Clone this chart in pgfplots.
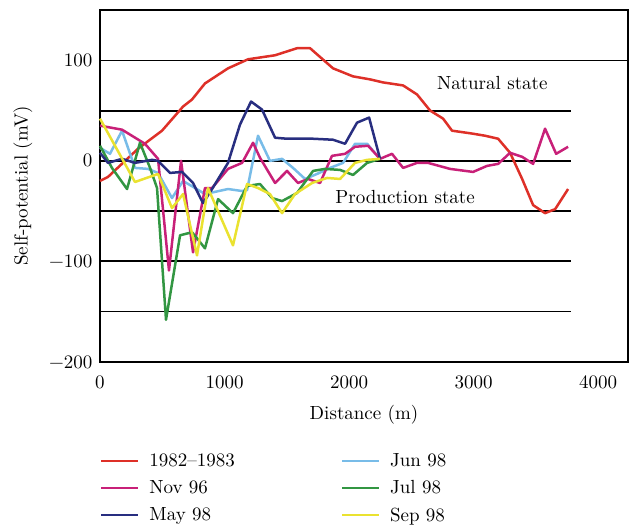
\documentclass[border=0pt]{standalone}
\usepackage{pgfplots}
\pgfplotsset{compat=1.18}
\usepackage{fontspec}
\setmainfont{lmroman10-regular}[Extension=.otf, BoldFont=lmroman10-bold, ItalicFont=lmroman10-italic]

\definecolor{cRed}{RGB}{222,48,40}
\definecolor{cNov}{RGB}{200,32,120}
\definecolor{cMay}{RGB}{40,46,128}
\definecolor{cJun}{RGB}{120,188,232}
\definecolor{cJul}{RGB}{50,150,66}
\definecolor{cSep}{RGB}{234,226,48}

\begin{document}
\begin{tikzpicture}[font=\fontsize{19}{22}\selectfont]
\begin{axis}[
    name=ax,
    scale only axis,
    width=528pt, height=352pt,
    xmin=0, xmax=4240,
    ymin=-200, ymax=150,
    xtick={0,1000,2000,3000,4000},
    xticklabels={0,1000,2000,3000,4000},
    ytick={-200,-100,0,100},
    yticklabels={−200,−100,0,100},
    major tick length=0pt,
    xticklabel style={yshift=-10pt},
    yticklabel style={xshift=-4pt},
    axis line style={line width=2.2pt},
    xlabel={Distance (m)},
    ylabel={Self-potential (mV)},
    xlabel style={yshift=-10pt},
    ylabel style={yshift=10pt},
    clip=false,
    every axis plot/.append style={line width=2.5pt, line join=round},
    legend columns=2,
    legend cell align=left,
    legend style={at={(0,-0.255)}, anchor=north west, draw=none,
      inner sep=0pt, column sep=8pt, row sep=8.3pt,
      /tikz/every even column/.append style={column sep=104pt}},
    legend image code/.code={\draw[#1, line width=2.2pt] (0pt,0pt) -- (37pt,0pt);},
  ]
  % horizontal reference lines
  \addplot[forget plot, black, line width=1.3pt] coordinates {(0,100) (4240,100)};
  \addplot[forget plot, black, line width=2pt] coordinates {(0,50) (3780,50)};
  \addplot[forget plot, black, line width=2pt] coordinates {(0,0) (3780,0)};
  \addplot[forget plot, black, line width=2pt] coordinates {(0,-50) (3780,-50)};
  \addplot[forget plot, black, line width=2pt] coordinates {(0,-100) (3780,-100)};
  \addplot[forget plot, black, line width=1.3pt] coordinates {(0,-150) (3780,-150)};

  % 1982-1983
  \addplot[cRed] coordinates {
    (0,-20) (64,-16) (305,12) (498,30) (667,54) (739,61) (843,77) (1028,92)
    (1189,101) (1406,105) (1582,112) (1687,112) (1871,92) (2032,84) (2169,81)
    (2273,78) (2434,75) (2546,66) (2651,50) (2755,42) (2827,30) (2996,27)
    (3092,25) (3197,22) (3293,8) (3390,-18) (3478,-44) (3574,-52) (3655,-48)
    (3759,-28)};
  \addlegendentry{1982–1983}
  % Jun 98
  \addplot[cJun] coordinates {
    (0,13) (80,7) (177,30) (281,-7) (386,-8) (466,-12) (578,-37) (667,-20)
    (763,-27) (843,-33) (1028,-28) (1141,-30) (1181,-29) (1269,25) (1365,0)
    (1462,2) (1550,-7) (1647,-18) (1743,-13) (1847,-7) (1952,-2) (2048,17)
    (2145,17) (2249,2)};
  \addlegendentry{Jun 98}
  % Nov 96
  \addplot[cNov] coordinates {
    (0,35) (177,31) (361,17) (466,2) (554,-109) (651,0) (747,-91) (843,-27)
    (900,-27) (1028,-8) (1141,-2) (1229,18) (1285,3) (1406,-22) (1502,-10)
    (1590,-22) (1671,-18) (1767,-22) (1863,5) (1968,7) (2048,14) (2153,15)
    (2249,2) (2345,7) (2434,-7) (2546,-2) (2634,-2) (2811,-8) (2996,-11)
    (3108,-5) (3197,-3) (3293,8) (3390,4) (3478,-3) (3574,32) (3663,7)
    (3759,14)};
  \addlegendentry{Nov 96}
  % Jul 98
  \addplot[cJul] coordinates {
    (0,15) (96,-7) (217,-28) (321,18) (402,-7) (458,-27) (530,-158) (643,-74)
    (739,-71) (779,-77) (843,-87) (948,-38) (1068,-52) (1181,-25) (1285,-23)
    (1382,-37) (1462,-40) (1582,-32) (1711,-10) (1807,-8) (1928,-9)
    (2032,-14) (2145,-2) (2249,2)};
  \addlegendentry{Jul 98}
  % May 98
  \addplot[cMay] coordinates {
    (0,8) (64,-2) (177,2) (281,-2) (418,1) (466,0) (562,-12) (659,-11)
    (747,-22) (827,-42) (900,-28) (1028,-2) (1124,36) (1213,59) (1301,51)
    (1406,23) (1502,22) (1711,22) (1871,21) (1968,17) (2064,38) (2161,43)
    (2249,2)};
  \addlegendentry{May 98}
  % Sep 98
  \addplot[cSep] coordinates {
    (0,42) (281,-21) (466,-13) (578,-47) (667,-33) (779,-94) (867,-27)
    (1068,-84) (1181,-23) (1269,-27) (1365,-33) (1462,-52) (1566,-33)
    (1703,-22) (1823,-17) (1928,-18) (2048,-2) (2145,1) (2249,2)};
  \addlegendentry{Sep 98}

  \node at (axis cs:3150,77) {Natural state};
  \node at (axis cs:2450,-36) {Production state};
\end{axis}
\path ([xshift=-100pt,yshift=-161pt]ax.south west) rectangle ([xshift=3pt,yshift=10pt]ax.north east);
\end{tikzpicture}
\end{document}
